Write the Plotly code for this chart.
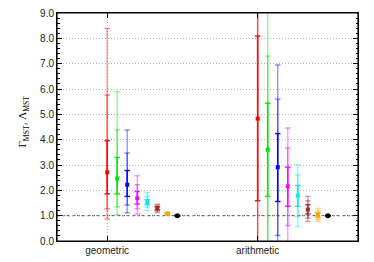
import plotly.graph_objects as go

# ---------------- data ----------------
categories = ["geometric", "arithmetic"]
series_colors = ["255,0,0", "0,230,0", "0,0,255", "255,0,255",
                 "0,235,235", "165,42,42", "255,165,0", "0,0,0"]

median_geo   = [2.71, 2.47, 2.22, 1.69, 1.53, 1.29, 1.09, 1.00]
inner_lo_geo = [1.86, 1.86, 1.76, 1.46, 1.43, 1.23, 1.08, 0.995]
inner_hi_geo = [3.96, 3.30, 2.78, 1.95, 1.63, 1.35, 1.10, 1.005]
mid_lo_geo   = [1.27, 1.35, 1.42, 1.27, 1.33, 1.18, 1.07, 0.99]
mid_hi_geo   = [5.76, 4.39, 3.47, 2.22, 1.75, 1.40, 1.11, 1.01]
out_lo_geo   = [0.87, 1.03, 1.11, 1.07, 1.20, 1.12, 1.05, 0.985]
out_hi_geo   = [8.39, 5.89, 4.38, 2.58, 1.92, 1.45, 1.13, 1.015]

median_ari   = [4.83, 3.60, 2.91, 2.16, 1.79, 1.24, 1.03, 1.00]
inner_lo_ari = [1.59, 1.76, 1.56, 1.37, 1.37, 1.07, 0.94, 0.995]
inner_hi_ari = [8.09, 5.44, 4.24, 2.91, 2.19, 1.43, 1.11, 1.005]
mid_lo_ari   = [-2.0, -1.0, 0.22, 0.61, 0.96, 0.90, 0.85, 0.99]
mid_hi_ari   = [12.0, 7.30, 5.60, 3.67, 2.61, 1.59, 1.20, 1.01]
out_lo_ari   = [-5.0, -3.0, -1.0, -0.5, 0.57, 0.77, 0.77, 0.985]
out_hi_ari   = [15.0, 12.0, 6.95, 4.46, 3.01, 1.76, 1.29, 1.015]

reference_level = 1.0
series_step = 1.0 / 15.0

# ---------------- figure ----------------
fig = go.Figure()

layers = [
    (out_lo_geo, out_hi_geo, out_lo_ari, out_hi_ari, 0.42, 1.4),
    (mid_lo_geo, mid_hi_geo, mid_lo_ari, mid_hi_ari, 0.45, 1.4),
    (inner_lo_geo, inner_hi_geo, inner_lo_ari, inner_hi_ari, 0.9, 1.6),
]

for i, col in enumerate(series_colors):
    xg = 0 + i * series_step
    xa = 1 + i * series_step
    for lo_g, hi_g, lo_a, hi_a, alpha, lw in layers:
        rgba = f"rgba({col},{alpha})"
        fig.add_trace(go.Scatter(
            x=[xg, xg, None, xa, xa],
            y=[lo_g[i], hi_g[i], None, lo_a[i], hi_a[i]],
            mode="lines", line=dict(color=rgba, width=lw),
            showlegend=False, hoverinfo="skip"))
        fig.add_trace(go.Scatter(
            x=[xg, xg, xa, xa],
            y=[lo_g[i], hi_g[i], lo_a[i], hi_a[i]],
            mode="markers", cliponaxis=True,
            marker=dict(symbol="line-ew", size=4, color=rgba,
                        line=dict(color=rgba, width=1.5)),
            showlegend=False, hoverinfo="skip"))
    last = i == len(series_colors) - 1
    fig.add_trace(go.Scatter(
        x=[xg, xa], y=[median_geo[i], median_ari[i]], mode="markers",
        marker=dict(symbol="circle" if last else "square",
                    size=5 if last else 4,
                    color=f"rgb({col})", line=dict(width=0)),
        showlegend=False))

fig.add_shape(type="line", xref="paper", yref="y", x0=0, x1=1,
              y0=reference_level, y1=reference_level,
              line=dict(color="#505050", width=1, dash="3px,2px"), layer="below")

# plot frame
fig.add_shape(type="rect", xref="paper", yref="paper", x0=0, x1=1, y0=0, y1=1,
              line=dict(color="#000", width=1.2), fillcolor="rgba(0,0,0,0)",
              layer="above")

fig.add_annotation(
    text="Γ<sub>MST</sub>, Λ<sub>MST</sub>", textangle=-90,
    xref="paper", yref="paper", x=-0.113, y=0.524,
    xanchor="center", yanchor="middle", showarrow=False,
    font=dict(family="Liberation Serif", size=11, color="#000"))

fig.update_xaxes(
    range=[-1 / 3, 5 / 3], tickvals=list(range(len(categories))), ticktext=categories,
    ticks="inside", ticklen=5, tickcolor="#000", showline=True, linecolor="#000",
    linewidth=1, mirror="ticks", showgrid=True, gridcolor="#b4b4b4",
    griddash="1px,2px", gridwidth=1, zeroline=False, automargin=False,
    tickfont=dict(family="Liberation Sans", size=10, color="#222"))

fig.update_yaxes(
    range=[0, 9], dtick=1, tick0=0, tickformat=".1f",
    ticks="inside", ticklen=5, tickcolor="#000", showline=True, linecolor="#000",
    linewidth=1, mirror="ticks", showgrid=True, gridcolor="#b4b4b4",
    griddash="1px,2px", gridwidth=1, zeroline=False, automargin=False,
    ticklabeloverflow="allow",
    minor=dict(dtick=0.2, ticks="inside", ticklen=2.5, tickcolor="#000", showgrid=False),
    tickfont=dict(family="Liberation Sans", size=10, color="#222"))

fig.update_layout(
    width=366, height=254,
    margin=dict(l=49, r=16, t=5, b=21),
    plot_bgcolor="white", paper_bgcolor="white",
    showlegend=False)

fig.write_html("out.html")
